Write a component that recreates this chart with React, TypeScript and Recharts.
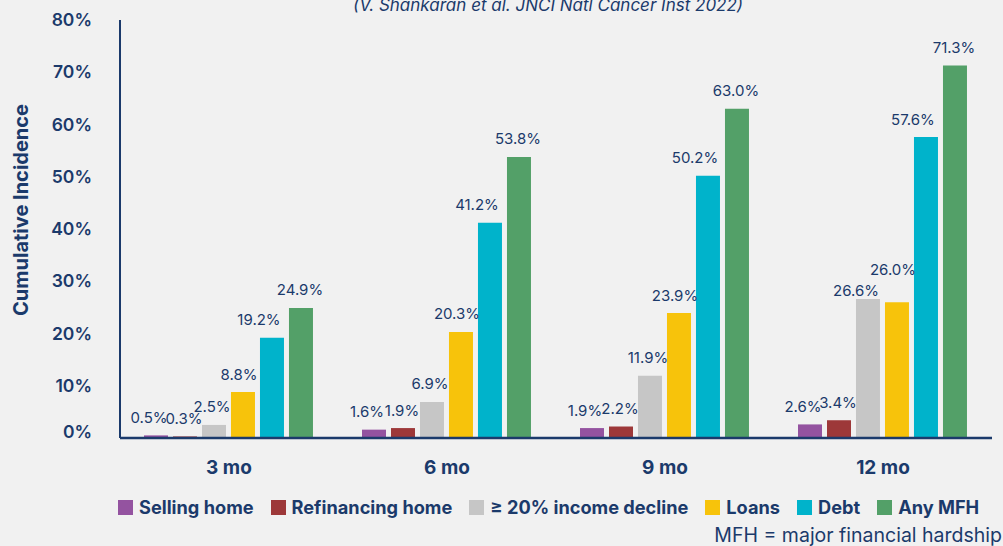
import React from 'react';
import { BarChart, Bar, XAxis, YAxis, Legend, LabelList, Label } from 'recharts';

const categories = ['3 mo', '6 mo', '9 mo', '12 mo'];
const sellingHome = [0.5, 1.6, 1.9, 2.6];
const refinancingHome = [0.3, 1.9, 2.2, 3.4];
const incomeDecline = [2.5, 6.9, 11.9, 26.6];
const loans = [8.8, 20.3, 23.9, 26.0];
const debt = [19.2, 41.2, 50.2, 57.6];
const anyMfh = [24.9, 53.8, 63.0, 71.3];
const yTicks = [0, 10, 20, 30, 40, 50, 60, 70, 80];

const NAVY = '#1b3a6b';
const FONT = 'Inter, "Noto Sans", sans-serif';

const series = [
  { key: 'selling', name: 'Selling home', values: sellingHome, color: '#9453a0', labelDx: -7 },
  { key: 'refinancing', name: 'Refinancing home', values: refinancingHome, color: '#9d3839', labelDx: -1 },
  { key: 'income', name: '≥ 20% income decline', values: incomeDecline, color: '#c6c6c6', labelDx: -2 },
  { key: 'loans', name: 'Loans', values: loans, color: '#f7c30b', labelDx: -4 },
  { key: 'debt', name: 'Debt', values: debt, color: '#00b3cb', labelDx: -13 },
  { key: 'any', name: 'Any MFH', values: anyMfh, color: '#53a068', labelDx: -1 },
];

const data = categories.map((c, i) => {
  const row: any = { category: c };
  series.forEach((s) => {
    row[s.key] = s.values[i];
  });
  return row;
});

const makeLabel = (s: any) => (props: any) => {
  const { x, y, width, value } = props;
  let idx = props.index;
  if (idx === undefined || idx === null) idx = s.values.indexOf(value);
  let dx = s.labelDx;
  let dy = 0;
  const close = Math.abs(loans[idx] - incomeDecline[idx]) < 3;
  if (close && s.key === 'loans') dy -= 15;
  if (close && s.key === 'income') {
    dx -= 10;
    dy += 9;
  }
  return (
    <text
      x={Number(x) + Number(width) / 2 + dx}
      y={Number(y) - 12.5 + dy}
      textAnchor="middle"
      fill={NAVY}
      fontSize={15}
      fontFamily={FONT}
      fontWeight={400}
    >
      {Number(value).toFixed(1) + '%'}
    </text>
  );
};

const YTick = (props: any) => {
  const { x, y, payload } = props;
  const extra = payload.value === 0 ? -6 : 0;
  return (
    <text
      x={x}
      y={y + 6 + extra}
      textAnchor="end"
      fill={NAVY}
      fontSize={17.5}
      fontFamily={FONT}
      fontWeight={600}
    >
      {payload.value + '%'}
    </text>
  );
};

const XTick = (props: any) => {
  const { x, y, payload } = props;
  return (
    <text
      x={x}
      y={y + 36}
      textAnchor="middle"
      fill={NAVY}
      fontSize={19}
      fontFamily={FONT}
      fontWeight={700}
    >
      {payload.value}
    </text>
  );
};

const YLabel = (props: any) => {
  const vb = props.viewBox || { x: 0, y: 20, width: 120, height: 418 };
  const cx = vb.x + 21;
  const cy = vb.y + vb.height / 2 - 19;
  return (
    <text
      x={cx}
      y={cy}
      transform={`rotate(-90, ${cx}, ${cy})`}
      textAnchor="middle"
      dominantBaseline="central"
      fill={NAVY}
      fontSize={20}
      fontFamily={FONT}
      fontWeight={700}
    >
      Cumulative Incidence
    </text>
  );
};

const LegendContent = () => {
  return (
    <div style={{ display: 'flex', alignItems: 'center', fontFamily: FONT, whiteSpace: 'nowrap' }}>
      {series.map((s, i) => (
        <div key={i} style={{ display: 'flex', alignItems: 'center', marginRight: 17 }}>
          <div style={{ width: 15, height: 15, background: s.color, marginRight: 6 }} />
          <span style={{ color: NAVY, fontSize: 18.2, fontWeight: 700, lineHeight: '22px' }}>{s.name}</span>
        </div>
      ))}
    </div>
  );
};

export default function App() {
  return (
    <div
      style={{
        position: 'absolute',
        left: 0,
        top: 0,
        width: 1003,
        height: 546,
        background: '#f1f1f1',
        overflow: 'hidden',
        fontFamily: FONT,
      }}
    >
      <div
        style={{
          position: 'absolute',
          top: -6,
          left: 0,
          width: 1096,
          textAlign: 'center',
          fontSize: 17,
          fontStyle: 'italic',
          color: NAVY,
          lineHeight: '22px',
          whiteSpace: 'nowrap',
        }}
      >
        (V. Shankaran et al. JNCI Natl Cancer Inst 2022)
      </div>
      <BarChart
        width={1003}
        height={546}
        data={data}
        margin={{ top: 20, right: 11, bottom: 48, left: 0 }}
        barCategoryGap="11%"
        barGap={5}
      >
        <XAxis
          dataKey="category"
          height={60}
          tickSize={0}
          tickMargin={0}
          tick={<XTick />}
          axisLine={{ stroke: NAVY, strokeWidth: 2.5 }}
          tickLine={false}
        />
        <YAxis
          width={120}
          domain={[0, 80]}
          ticks={yTicks}
          interval={0}
          tickSize={0}
          tickMargin={28}
          tick={<YTick />}
          axisLine={{ stroke: NAVY, strokeWidth: 2 }}
          tickLine={false}
        >
          <Label content={<YLabel />} />
        </YAxis>
        <Legend
          layout="horizontal"
          verticalAlign="middle"
          align="center"
          content={<LegendContent />}
          wrapperStyle={{ top: 496, left: 118, width: 900 }}
        />
        {series.map((s) => (
          <Bar key={s.key} dataKey={s.key} name={s.name} fill={s.color} isAnimationActive={false}>
            <LabelList dataKey={s.key} content={makeLabel(s)} />
          </Bar>
        ))}
      </BarChart>
      <div
        style={{
          position: 'absolute',
          right: 1,
          top: 524,
          fontSize: 19.5,
          color: NAVY,
          lineHeight: '22px',
          whiteSpace: 'nowrap',
        }}
      >
        MFH = major financial hardship
      </div>
    </div>
  );
}
